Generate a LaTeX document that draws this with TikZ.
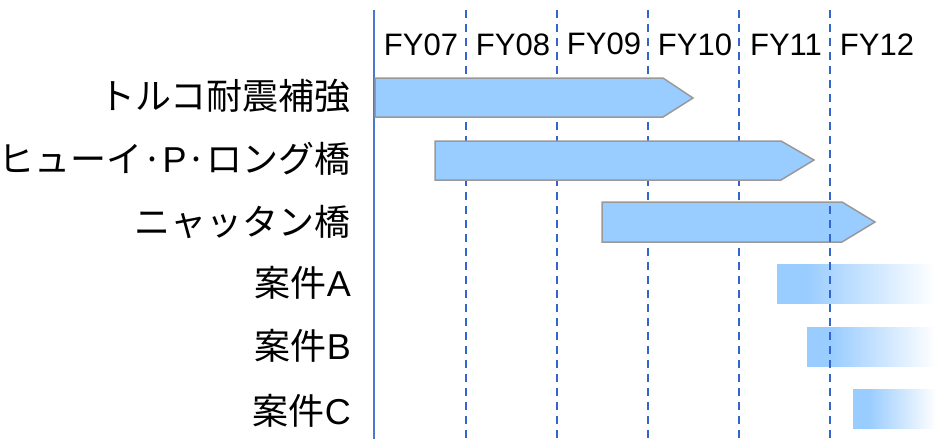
\documentclass[tikz,border=0pt]{standalone}
\usepackage{fontspec}
\setmainfont{Liberation Sans}
\newfontfamily\jpfont{Noto Sans CJK JP}
\usetikzlibrary{shadings}
\definecolor{barblue}{HTML}{99CCFF}
\definecolor{bargray}{HTML}{999999}
\definecolor{dashblue}{HTML}{3366CC}
\definecolor{axisblue}{HTML}{4A78D0}
\pgfdeclarehorizontalshading{fadeblue}{100bp}{color(0bp)=(barblue); color(25bp)=(barblue); color(34bp)=(barblue); color(74bp)=(white); color(100bp)=(white)}
\newcommand{\lat}[1]{{\rmfamily #1}}
\begin{document}
\begin{tikzpicture}[x=1pt,y=-1pt,
  yearlbl/.style={font=\fontsize{31}{31}\selectfont, anchor=base, inner sep=0pt},
  rowlbl/.style={font=\jpfont\fontsize{36}{36}\selectfont, anchor=east, inner sep=0pt},
  arrowbar/.style={fill=barblue, draw=bargray, line width=1.5pt, line join=miter},
  fadebar/.style={shading=fadeblue},
  gridline/.style={draw=dashblue, line width=2pt, dash pattern=on 8pt off 6pt},
  axisline/.style={draw=axisblue, line width=2pt}]
\useasboundingbox (0,0) rectangle (938,439);
% axis
\draw[axisline] (374,10) -- (374,439);
% dashed year dividers (under the bars)
\foreach \x in {465.5,556.5,647.5,738.5} {\draw[gridline] (\x,10) -- (\x,439);}
% year labels
\node[yearlbl] (fy07) at (421,56) {FY07};
\node[yearlbl] (fy08) at (513,56) {FY08};
\node[yearlbl] (fy09) at (604,54) {FY09};
\node[yearlbl] (fy10) at (695,56) {FY10};
\node[yearlbl] (fy11) at (786,56) {FY11};
\node[yearlbl] (fy12) at (877,56) {FY12};
% arrow bars
\draw[arrowbar] (375,78) -- (663,78) -- (693,98) -- (663,117) -- (375,117) -- cycle;
\draw[arrowbar] (435,141) -- (781,141) -- (814,160) -- (781,180) -- (435,180) -- cycle;
\draw[arrowbar] (602,202) -- (842,202) -- (875,222) -- (842,242) -- (602,242) -- cycle;
% fading bars
\fill[fadebar] (777,264) rectangle (938,303);
\fill[fadebar] (807,327) rectangle (938,366);
\fill[fadebar] (853,389) rectangle (938,428);
% last divider on top
\draw[gridline] (829.5,10) -- (829.5,439);
% row labels
\node[rowlbl] (r1) at (351,96) {トルコ耐震補強};
\node[rowlbl] (r2) at (351,159) {ヒューイ·\lat{P}·ロング橋};
\node[rowlbl] (r3) at (351,222) {ニャッタン橋};
\node[rowlbl] (r4) at (351,283) {案件\lat{A}};
\node[rowlbl] (r5) at (351,346) {案件\lat{B}};
\node[rowlbl] (r6) at (351,411) {案件\lat{C}};
\end{tikzpicture}
\end{document}
